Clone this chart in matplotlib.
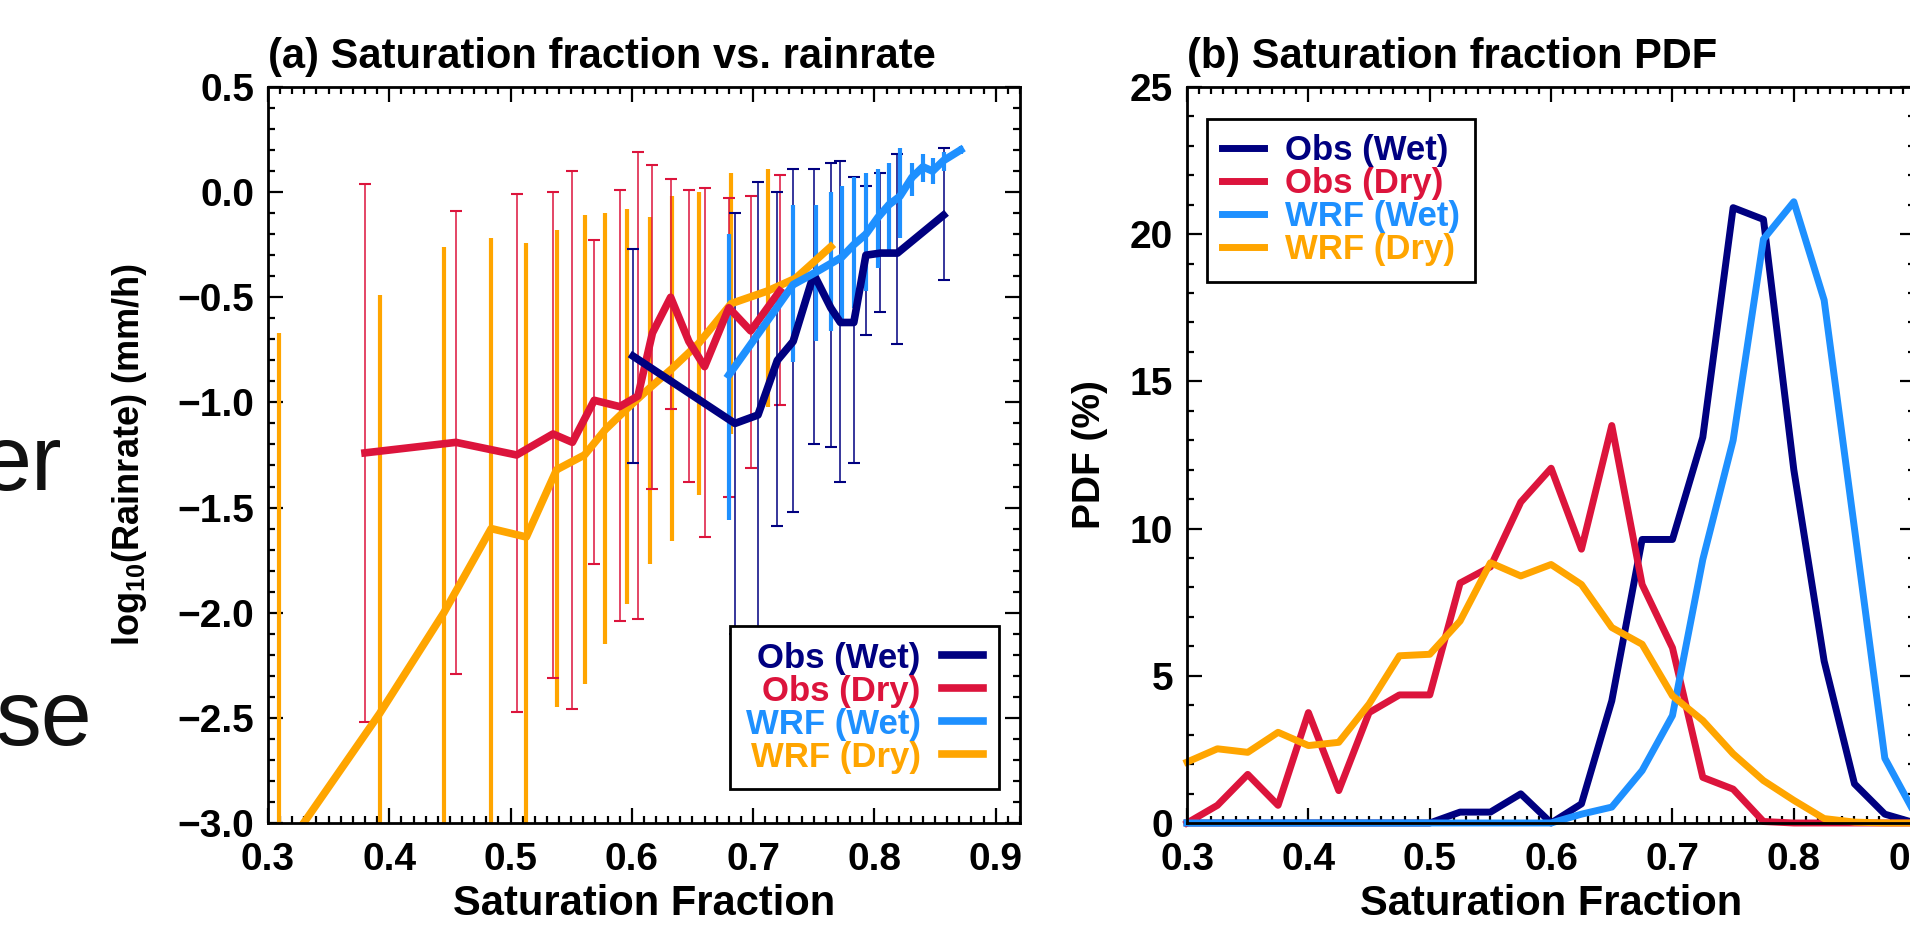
import numpy as np
import matplotlib
matplotlib.use("Agg")
import matplotlib.pyplot as plt
from matplotlib.ticker import MultipleLocator

plt.rcParams.update({
    'font.family': ['Liberation Sans', 'DejaVu Sans'],
    'font.weight': 'bold',
    'axes.labelweight': 'bold',
    'axes.titleweight': 'bold',
    'mathtext.fontset': 'custom',
    'mathtext.rm': 'Liberation Sans:bold',
    'mathtext.bf': 'Liberation Sans:bold',
    'mathtext.default': 'bf',
})

C_OBS_WET = '#000080'
C_OBS_DRY = '#DC143C'
C_WRF_WET = '#1E90FF'
C_WRF_DRY = '#FFA500'

labels = ['Obs (Wet)', 'Obs (Dry)', 'WRF (Wet)', 'WRF (Dry)']

# ---- panel (a): saturation fraction vs log10 rainrate, with error bars
obs_wet_x = [0.601, 0.685, 0.704, 0.720, 0.733, 0.750, 0.764, 0.772, 0.783, 0.793, 0.805, 0.819, 0.857]
obs_wet_y = [-0.78, -1.10, -1.06, -0.80, -0.71, -0.39, -0.55, -0.62, -0.62, -0.30, -0.29, -0.29, -0.11]
obs_wet_top = [-0.27, -0.10, 0.05, 0.00, 0.11, 0.11, 0.14, 0.15, 0.07, 0.03, 0.09, 0.18, 0.21]
obs_wet_bot = [-1.29, -2.10, -2.30, -1.59, -1.52, -1.20, -1.21, -1.38, -1.29, -0.68, -0.57, -0.72, -0.42]

obs_dry_x = [0.380, 0.455, 0.505, 0.535, 0.551, 0.569, 0.590, 0.605, 0.617, 0.632, 0.647, 0.660, 0.680, 0.698, 0.722]
obs_dry_y = [-1.24, -1.19, -1.25, -1.15, -1.19, -0.99, -1.02, -0.97, -0.67, -0.50, -0.71, -0.83, -0.55, -0.66, -0.47]
obs_dry_top = [0.04, -0.09, -0.01, 0.00, 0.10, -0.23, 0.01, 0.19, 0.13, 0.06, 0.01, 0.02, -0.03, -0.02, 0.08]
obs_dry_bot = [-2.52, -2.29, -2.47, -2.31, -2.46, -1.77, -2.04, -2.03, -1.41, -1.03, -1.38, -1.64, -1.45, -1.31, -1.01]

wrf_wet_x = [0.680, 0.733, 0.752, 0.764, 0.773, 0.783, 0.793, 0.803, 0.812, 0.821, 0.831, 0.840, 0.848, 0.857, 0.871]
wrf_wet_y = [-0.87, -0.44, -0.38, -0.34, -0.31, -0.25, -0.20, -0.12, -0.06, -0.02, 0.07, 0.12, 0.10, 0.15, 0.20]
wrf_wet_top = [-0.20, -0.06, -0.06, 0.00, 0.03, 0.07, 0.09, 0.11, 0.14, 0.21, 0.14, 0.18, 0.16, 0.19, 0.22]
wrf_wet_bot = [-1.56, -0.81, -0.71, -0.66, -0.62, -0.55, -0.47, -0.36, -0.28, -0.22, -0.02, 0.05, 0.04, 0.10, 0.18]

wrf_dry_x = [0.309, 0.392, 0.445, 0.484, 0.513, 0.538, 0.561, 0.578, 0.596, 0.615, 0.633, 0.655, 0.682, 0.712, 0.735, 0.764]
wrf_dry_y = [-3.17, -2.48, -2.00, -1.60, -1.64, -1.32, -1.25, -1.13, -1.03, -0.93, -0.84, -0.72, -0.53, -0.47, -0.41, -0.26]
wrf_dry_top = [-0.67, -0.49, -0.26, -0.22, -0.24, -0.18, -0.11, -0.10, -0.08, -0.12, -0.02, 0.00, 0.09, 0.11, -0.41, -0.26]
wrf_dry_bot = [-5.70, -4.50, -3.70, -3.10, -3.10, -2.45, -2.34, -2.15, -1.96, -1.77, -1.66, -1.44, -1.15, -1.02, -0.41, -0.26]

# ---- panel (b): PDF of saturation fraction
pdf_x = [0.300, 0.325, 0.350, 0.375, 0.400, 0.425, 0.450, 0.475, 0.500, 0.525, 0.550, 0.575, 0.600,
         0.625, 0.650, 0.675, 0.700, 0.725, 0.750, 0.775, 0.800, 0.825, 0.850, 0.875, 0.900]
obs_wet_pdf = [0, 0, 0, 0, 0, 0, 0, 0, 0, 0.37, 0.37, 0.99, 0.0,
               0.65, 4.15, 9.63, 9.63, 13.1, 20.9, 20.5, 12.0, 5.5, 1.33, 0.3, 0.0]
obs_dry_pdf = [0.0, 0.6, 1.65, 0.6, 3.75, 1.1, 3.75, 4.35, 4.35, 8.15, 8.7, 10.9, 12.05,
               9.3, 13.5, 8.1, 5.95, 1.55, 1.15, 0.05, 0, 0, 0, 0, 0]
wrf_wet_pdf = [0, 0, 0, 0, 0, 0, 0, 0, 0, 0, 0, 0, 0.0,
               0.3, 0.54, 1.78, 3.65, 8.95, 13.0, 19.83, 21.1, 17.76, 10.0, 2.2, 0.3]
wrf_dry_pdf = [2.07, 2.52, 2.4, 3.08, 2.63, 2.74, 4.04, 5.68, 5.73, 6.86, 8.84, 8.39, 8.78,
               8.1, 6.64, 6.07, 4.32, 3.48, 2.35, 1.44, 0.77, 0.15, 0.03, 0.0, 0.0]


def asym(y, top, bot):
    y = np.asarray(y); top = np.asarray(top); bot = np.asarray(bot)
    return [y - bot, top - y]


fig = plt.figure(figsize=(19.10, 9.27), dpi=100)
ax1 = fig.add_axes([0.1403, 0.1122, 0.3937, 0.794])
ax2 = fig.add_axes([0.6215, 0.1122, 0.3812, 0.794])

# slide text leaking in from the left
fig.text(62 / 1910, 1 - 490 / 927, 'er', fontsize=66, fontweight='normal', ha='right', va='baseline', color='#111111')
fig.text(92 / 1910, 1 - 745 / 927, 'se', fontsize=66, fontweight='normal', ha='right', va='baseline', color='#111111')

# panel (a)
e_dry = ax1.errorbar(wrf_dry_x, wrf_dry_y, yerr=asym(wrf_dry_y, wrf_dry_top, wrf_dry_bot),
                     color=C_WRF_DRY, lw=5.5, elinewidth=3, capsize=0)
e_odry = ax1.errorbar(obs_dry_x, obs_dry_y, yerr=asym(obs_dry_y, obs_dry_top, obs_dry_bot),
                      color=C_OBS_DRY, lw=5.5, elinewidth=1.1, capsize=4, capthick=1.5)
e_owet = ax1.errorbar(obs_wet_x, obs_wet_y, yerr=asym(obs_wet_y, obs_wet_top, obs_wet_bot),
                      color=C_OBS_WET, lw=5.5, elinewidth=1.1, capsize=4, capthick=1.5)
e_wet = ax1.errorbar(wrf_wet_x, wrf_wet_y, yerr=asym(wrf_wet_y, wrf_wet_top, wrf_wet_bot),
                     color=C_WRF_WET, lw=5.5, elinewidth=3, capsize=0)

ax1.set_xlim(0.3, 0.92)
ax1.set_ylim(-3.0, 0.5)
ax1.xaxis.set_major_locator(MultipleLocator(0.1))
ax1.xaxis.set_minor_locator(MultipleLocator(0.01))
ax1.yaxis.set_major_locator(MultipleLocator(0.5))
ax1.yaxis.set_minor_locator(MultipleLocator(0.1))
ax1.set_xlabel('Saturation Fraction', fontsize=30, labelpad=4)
ax1.set_ylabel('log$_{10}$(Rainrate) (mm/h)', fontsize=26, labelpad=20)
ax1.set_title('(a) Saturation fraction vs. rainrate', loc='left', fontsize=30, pad=14)

handles_a = [e_owet[0], e_odry[0], e_wet[0], e_dry[0]]
leg1 = ax1.legend(handles_a, labels, loc='lower right', bbox_to_anchor=(0.972, 0.046),
                  markerfirst=False, labelcolor='linecolor', fontsize=25, frameon=True,
                  fancybox=False, edgecolor='black', framealpha=1, borderaxespad=0,
                  handlelength=1.2, handletextpad=0.6, labelspacing=0.0, borderpad=0.45)
leg1.get_frame().set_linewidth(2)
leg1.set_zorder(10)

# panel (b)
ax2.plot(pdf_x, obs_wet_pdf, color=C_OBS_WET, lw=5, label=labels[0], clip_on=False)
ax2.plot(pdf_x, obs_dry_pdf, color=C_OBS_DRY, lw=5, label=labels[1], clip_on=False)
ax2.plot(pdf_x, wrf_wet_pdf, color=C_WRF_WET, lw=5, label=labels[2], clip_on=False)
ax2.plot(pdf_x, wrf_dry_pdf, color=C_WRF_DRY, lw=5, label=labels[3], clip_on=False)

ax2.set_xlim(0.3, 0.9)
ax2.set_ylim(0, 25)
ax2.xaxis.set_major_locator(MultipleLocator(0.1))
ax2.xaxis.set_minor_locator(MultipleLocator(0.01))
ax2.yaxis.set_major_locator(MultipleLocator(5))
ax2.yaxis.set_minor_locator(MultipleLocator(1))
ax2.set_xlabel('Saturation Fraction', fontsize=30, labelpad=4)
ax2.set_ylabel('PDF (%)', fontsize=28, labelpad=16)
ax2.set_title('(b) Saturation fraction PDF', loc='left', fontsize=30, pad=14)

leg2 = ax2.legend(loc='upper left', bbox_to_anchor=(0.027, 0.957), labelcolor='linecolor',
                  fontsize=25, frameon=True, fancybox=False, edgecolor='black', framealpha=1,
                  borderaxespad=0, handlelength=1.2, handletextpad=0.6, labelspacing=0.0,
                  borderpad=0.45)
leg2.get_frame().set_linewidth(2)

for ax in (ax1, ax2):
    ax.tick_params(which='both', direction='in', top=True, right=True, width=1.6,
                   labelsize=28)
    ax.tick_params(which='major', length=11)
    ax.tick_params(which='minor', length=5)
    ax.tick_params(axis='x', pad=14)
    ax.tick_params(axis='y', pad=10)
    for s in ax.spines.values():
        s.set_linewidth(2)

fig.savefig('out.png', dpi=100)
